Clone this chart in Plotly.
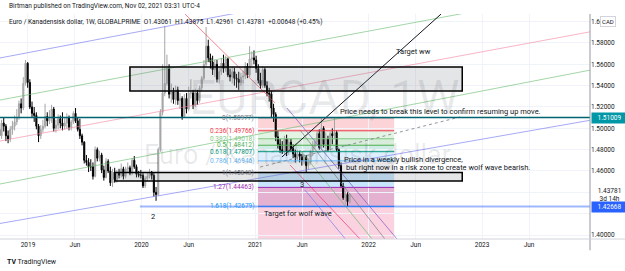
import plotly.graph_objects as go
import pandas as pd

# ---------------- data (EURCAD weekly) ----------------
opens = [
 1.4990,1.4930,1.5050,1.5020,1.4930,1.4900,1.4990,1.5020,1.5060,1.5100,1.5230,1.5190,1.5420,1.5610,
 1.5430,1.5200,1.5140,1.5120,1.5020,1.4930,1.4990,1.5020,1.5110,1.5070,1.5090,1.5180,
 1.5000,1.5030,1.5090,1.5050,1.5020,1.5050,1.5100,1.5010,1.5060,1.5140,1.5070,1.4990,1.4930,
 1.4870,1.4700,1.4680,1.4640,1.4640,1.4550,1.4800,1.4720,1.4750,1.4610,1.4540,1.4690,1.4600,1.4490,
 1.4590,1.4520,1.4580,1.4560,1.4620,1.4550,1.4620,1.4630,1.4580,1.4700,1.4640,1.4570,1.4560,
 1.4560,1.4460,1.4530,1.4550,1.4590,1.4560,1.4400,1.4380,1.4800,1.5150,1.5330,1.5420,1.5560,
 1.5320,1.5340,1.5270,1.5360,1.5260,1.5280,1.5110,1.5280,1.5180,1.5330,1.5330,1.5220,1.5330,
 1.5260,1.5380,1.5470,1.5600,1.5770,1.5660,1.5620,1.5550,1.5600,1.5460,1.5530,1.5610,1.5560,
 1.5650,1.5500,1.5480,1.5530,1.5470,1.5460,1.5430,1.5480,1.5490,1.5580,1.5500,1.5650,1.5660,
 1.5640,1.5560,1.5450,1.5400,1.5550,1.5400,1.5330,1.5320,1.5190,1.5130,1.4920,1.4850,1.4800,
 1.4780,1.4900,1.4780,1.4870,1.4810,1.4760,1.4730,1.4760,1.4740,1.4700,1.4730,1.4650,1.4680,
 1.4780,1.4830,1.4870,1.4950,1.4820,1.5000,1.4850,1.4900,1.4800,1.4950,1.4930,1.4960,1.4800,
 1.4650,1.4460,1.4350,1.4380,1.43061]
highs = [
 1.5060,1.5080,1.5100,1.5040,1.4980,1.5020,1.5070,1.5120,1.5180,1.5260,1.5280,1.5480,1.5640,1.5620,
 1.5460,1.5250,1.5200,1.5150,1.5040,1.5030,1.5080,1.5230,1.5150,1.5170,1.5220,1.5200,
 1.5080,1.5130,1.5120,1.5150,1.5100,1.5140,1.5120,1.5080,1.5160,1.5190,1.5100,1.5090,1.4950,
 1.4880,1.4750,1.4720,1.4710,1.4680,1.4830,1.4820,1.4790,1.4770,1.4650,1.4720,1.4710,1.4640,
 1.4620,1.4630,1.4610,1.4620,1.4670,1.4640,1.4640,1.4680,1.4650,1.4720,1.4740,1.4660,1.4600,
 1.4610,1.4580,1.4550,1.4590,1.4620,1.4600,1.4580,1.4450,1.4820,1.5180,1.5600,1.5960,1.5690,
 1.5600,1.5420,1.5380,1.5400,1.5390,1.5330,1.5300,1.5320,1.5330,1.5390,1.5460,1.5360,1.5370,
 1.5360,1.5400,1.5490,1.5640,1.5950,1.5830,1.5700,1.5680,1.5640,1.5640,1.5580,1.5660,1.5690,
 1.5680,1.5660,1.5560,1.5580,1.5570,1.5510,1.5530,1.5520,1.5540,1.5620,1.5610,1.5770,1.5720,
 1.5730,1.5680,1.5600,1.5520,1.5580,1.5570,1.5440,1.5380,1.5350,1.5230,1.5150,1.4980,1.4900,
 1.4880,1.4930,1.4940,1.4900,1.4900,1.4850,1.4800,1.4800,1.4790,1.4760,1.4760,1.4750,1.4720,
 1.4800,1.4880,1.4900,1.4980,1.4990,1.5100,1.5020,1.4960,1.4930,1.4970,1.5000,1.5100,1.4980,
 1.4810,1.4680,1.4490,1.4410,1.4400,1.43875]
lows = [
 1.4880,1.4900,1.4970,1.4880,1.4860,1.4870,1.4940,1.4980,1.5030,1.5080,1.5140,1.5170,1.5400,1.5380,
 1.5180,1.5100,1.5060,1.4990,1.4870,1.4900,1.4960,1.5000,1.5020,1.5040,1.5050,1.4970,
 1.4960,1.4990,1.5000,1.4980,1.4990,1.5000,1.4980,1.4980,1.5040,1.5050,1.4970,1.4900,1.4840,
 1.4670,1.4650,1.4590,1.4600,1.4520,1.4540,1.4690,1.4690,1.4580,1.4510,1.4530,1.4580,1.4460,
 1.4450,1.4490,1.4490,1.4530,1.4540,1.4520,1.4530,1.4590,1.4560,1.4560,1.4620,1.4540,1.4540,
 1.4530,1.4440,1.4440,1.4500,1.4530,1.4520,1.4360,1.4320,1.4370,1.4780,1.5120,1.5300,1.5400,
 1.5280,1.5240,1.5230,1.5220,1.5220,1.5180,1.5080,1.5100,1.5140,1.5160,1.5280,1.5180,1.5200,
 1.5220,1.5240,1.5350,1.5450,1.5580,1.5620,1.5560,1.5500,1.5480,1.5430,1.5420,1.5500,1.5520,
 1.5530,1.5480,1.5440,1.5420,1.5400,1.5380,1.5360,1.5400,1.5420,1.5460,1.5470,1.5480,1.5580,
 1.5600,1.5520,1.5420,1.5370,1.5380,1.5380,1.5300,1.5250,1.5100,1.5060,1.4880,1.4810,1.4770,
 1.4760,1.4760,1.4740,1.4750,1.4780,1.4720,1.4680,1.4700,1.4680,1.4650,1.4660,1.4590,1.4610,
 1.4660,1.4740,1.4800,1.4840,1.4800,1.4800,1.4820,1.4780,1.4780,1.4780,1.4850,1.4900,1.4780,
 1.4620,1.4440,1.4330,1.4290,1.4270,1.42961]
closes = [
 1.4930,1.5050,1.5020,1.4930,1.4900,1.4990,1.5020,1.5060,1.5100,1.5230,1.5190,1.5420,1.5610,1.5430,
 1.5200,1.5140,1.5120,1.5020,1.4930,1.4990,1.5020,1.5110,1.5070,1.5090,1.5180,1.5000,
 1.5030,1.5090,1.5050,1.5020,1.5050,1.5100,1.5010,1.5060,1.5140,1.5070,1.4990,1.4930,1.4870,
 1.4700,1.4680,1.4640,1.4640,1.4550,1.4800,1.4720,1.4750,1.4610,1.4540,1.4690,1.4600,1.4490,
 1.4590,1.4520,1.4580,1.4560,1.4620,1.4550,1.4620,1.4630,1.4580,1.4700,1.4640,1.4570,1.4560,
 1.4560,1.4460,1.4530,1.4550,1.4590,1.4560,1.4400,1.4380,1.4800,1.5150,1.5330,1.5420,1.5560,1.5320,
 1.5340,1.5270,1.5360,1.5260,1.5280,1.5110,1.5280,1.5180,1.5330,1.5330,1.5220,1.5330,
 1.5260,1.5380,1.5470,1.5600,1.5770,1.5660,1.5620,1.5550,1.5600,1.5460,1.5530,1.5610,1.5560,
 1.5650,1.5500,1.5480,1.5530,1.5470,1.5460,1.5430,1.5480,1.5490,1.5580,1.5500,1.5650,1.5660,
 1.5640,1.5560,1.5450,1.5400,1.5550,1.5400,1.5330,1.5320,1.5190,1.5130,1.4920,1.4850,1.4800,
 1.4780,1.4900,1.4780,1.4870,1.4810,1.4760,1.4730,1.4760,1.4740,1.4700,1.4730,1.4650,1.4680,
 1.4780,1.4830,1.4870,1.4950,1.4820,1.5000,1.4850,1.4900,1.4800,1.4950,1.4930,1.4960,1.4800,
 1.4650,1.4460,1.4350,1.4380,1.43133,1.43781]
dates = pd.date_range(end="2021-11-01", periods=len(closes), freq="7D")

x_ticks = ["2019-01-01","2019-06-01","2020-01-01","2020-06-01","2021-01-01","2021-06-01",
           "2022-01-01","2022-06-01","2023-01-01","2023-06-01"]
x_tick_labels = ["2019","Jun","2020","Jun","2021","Jun","2022","Jun","2023","Jun"]
y_ticks = [1.40,1.42,1.44,1.46,1.48,1.50,1.52,1.54,1.56,1.58,1.60]
y_tick_labels = ["1.40000","","","1.46000","1.48000","1.50000","1.52000","1.54000","1.56000","1.58000","1.60000"]

fib_levels = ["0","0.236","0.382","0.5","0.618","0.786","1","1.27","1.618"]
fib_prices = [1.50977,1.49766,1.49018,1.48412,1.47807,1.46946,1.45848,1.44463,1.42679]
fib_ext_price = 1.37550
fib_colors = ["#787b86","#f23645","#81c784","#4caf50","#089981","#64b5f6","#787b86","#9c27b0","#2196f3"]
fib_fills = ["rgba(242,54,69,0.22)","rgba(129,199,132,0.22)","rgba(76,175,80,0.22)",
             "rgba(8,153,129,0.2)","rgba(100,181,246,0.22)","rgba(120,123,134,0.18)",
             "rgba(33,150,243,0.25)","rgba(190,60,140,0.4)","rgba(233,30,99,0.2)"]
fib_start, fib_end, fib_label_date = "2021-01-10", "2022-03-24", "2021-01-04"

x_range = ["2018-10-03", "2023-12-14"]
y_range = [1.39625, 1.60712]

boxes = [  # (x0, x1, y0, y1)
    ("2019-11-25", "2022-10-29", 1.5350, 1.5575),
    ("2019-10-08", "2022-10-29", 1.4505, 1.4585),
]
channel_lines = [  # y at left edge, y at right edge, colour
    (1.5659, 1.6709, "rgba(120,123,240,0.65)"),
    (1.5265, 1.6299, "rgba(102,187,106,0.6)"),
    (1.4881, 1.5904, "rgba(242,120,150,0.55)"),
    (1.4478, 1.5545, "rgba(102,187,106,0.6)"),
    (1.4108, 1.5075, "rgba(120,123,240,0.65)"),
]
segments = [  # x0, y0, x1, y1, colour, dash
    ("2021-03-28", 1.4731, "2022-08-22", 1.6071, "#131722", "solid"),
    ("2020-05-20", 1.6071, "2021-03-06", 1.5237, "rgba(242,54,69,0.6)", "solid"),
    ("2021-01-17", 1.4637, "2022-10-22", 1.5106, "rgba(120,123,134,0.8)", "dot"),
    ("2021-04-13", 1.5190, "2022-04-02", 1.3963, "rgba(126,87,194,0.7)", "solid"),
    ("2021-05-25", 1.4984, "2022-02-22", 1.3963, "rgba(120,123,134,0.7)", "solid"),
    ("2021-05-25", 1.4797, "2022-01-12", 1.3963, "rgba(102,187,106,0.7)", "solid"),
    ("2021-04-23", 1.4656, "2021-12-04", 1.3963, "rgba(233,30,99,0.6)", "solid"),
    ("2021-06-10", 1.4422, "2021-10-18", 1.3963, "rgba(120,123,240,0.7)", "solid"),
]
teal_level = 1.51009
blue_level, blue_start = 1.42668, "2019-12-27"
last_price = 1.43781

notes = [  # x, y, text, xanchor
    ("2022-05-24", 1.5724, "Target ww", "center"),
    ("2021-09-24", 1.5153, "Price needs to break this level to confirm resuming up move.", "left"),
    ("2021-10-08", 1.4703, "Price in a weekly bullish divergence,", "left"),
    ("2021-10-14", 1.4628, "but right now in a risk zone to create wolf wave bearish.", "left"),
    ("2021-01-23", 1.4206, "Target for wolf wave", "left"),
    ("2020-02-07", 1.4169, "2", "center"),
    ("2021-06-01", 1.4469, "3", "center"),
]

FONT = "Roboto"
TXT = "#131722"
UP, DOWN = "#a6a6a6", "#000000"

fig = go.Figure(go.Candlestick(
    x=dates, open=opens, high=highs, low=lows, close=closes,
    increasing=dict(line=dict(color=UP, width=1), fillcolor=UP),
    decreasing=dict(line=dict(color=DOWN, width=1), fillcolor=DOWN),
    whiskerwidth=0, hoverinfo="skip", showlegend=False))

shapes = []
bounds = fib_prices + [fib_ext_price]
for i in range(len(fib_prices)):
    shapes.append(dict(type="rect", xref="x", yref="y", x0=fib_start, x1=fib_end,
                       y0=bounds[i], y1=bounds[i + 1], fillcolor=fib_fills[i],
                       line=dict(width=0), layer="below"))
for p, c in zip(fib_prices, fib_colors):
    shapes.append(dict(type="line", xref="x", yref="y", x0=fib_start, x1=fib_end, y0=p, y1=p,
                       line=dict(color=c, width=1), layer="above"))
for y0, y1, c in channel_lines:
    shapes.append(dict(type="line", xref="x", yref="y", x0=x_range[0], x1=x_range[1], y0=y0, y1=y1,
                       line=dict(color=c, width=1)))
for x0, y0, x1, y1, c, d in segments:
    shapes.append(dict(type="line", xref="x", yref="y", x0=x0, x1=x1, y0=y0, y1=y1,
                       line=dict(color=c, width=1, dash=d)))
for x0, x1, y0, y1 in boxes:
    shapes.append(dict(type="rect", xref="x", yref="y", x0=x0, x1=x1, y0=y0, y1=y1,
                       fillcolor="rgba(120,123,134,0.2)", line=dict(color="#000000", width=1.5)))
shapes.append(dict(type="line", xref="paper", yref="y", x0=0, x1=1, y0=teal_level, y1=teal_level,
                   line=dict(color="#006470", width=1.5)))
shapes.append(dict(type="line", xref="x", yref="y", x0=blue_start, x1=x_range[1], y0=blue_level, y1=blue_level,
                   line=dict(color="rgba(41,98,255,0.45)", width=2)))
shapes.append(dict(type="line", xref="paper", yref="paper", x0=1, x1=1, y0=-0.05, y1=1,
                   line=dict(color="#9598a1", width=1)))
shapes.append(dict(type="line", xref="paper", yref="paper", x0=0, x1=1.06, y0=0, y1=0,
                   line=dict(color="#d1d4dc", width=1)))

ann = []
for lvl, p, c in zip(fib_levels, fib_prices, fib_colors):
    ann.append(dict(x=fib_label_date, y=p, xref="x", yref="y", text=f"{lvl}({p:.5f})",
                    showarrow=False, xanchor="right", yanchor="middle",
                    font=dict(family=FONT, size=6.5, color=c)))
for x, y, t, xa in notes:
    ann.append(dict(x=x, y=y, xref="x", yref="y", text=t, showarrow=False, xanchor=xa,
                    yanchor="middle", font=dict(family=FONT, size=7.5, color=TXT)))
# watermark
ann.append(dict(x=0.55, y=0.627, xref="paper", yref="paper", text="EURCAD, 1W", showarrow=False,
                xanchor="center", yanchor="middle",
                font=dict(family=FONT, size=48, color="rgba(19,23,34,0.09)")))
ann.append(dict(x=0.505, y=0.375, xref="paper", yref="paper", text="Euro / Kanadensisk dollar",
                showarrow=False, xanchor="center", yanchor="middle",
                font=dict(family=FONT, size=27, color="rgba(19,23,34,0.09)")))
# headers
ann.append(dict(x=0, y=1, xref="paper", yref="paper", text="Birtman published on TradingView.com, Nov 02, 2021 03:31 UTC-4",
                showarrow=False, xanchor="left", yanchor="middle", xshift=7, yshift=8,
                font=dict(family=FONT, size=6.5, color=TXT)))
ann.append(dict(x=0, y=1, xref="paper", yref="paper",
                text="Euro / Kanadensisk dollar, 1W, GLOBALPRIME  O1.43061  H1.43875  L1.42961  C1.43781  +0.00648 (+0.45%)",
                showarrow=False, xanchor="left", yanchor="middle", xshift=7, yshift=-8,
                font=dict(family=FONT, size=6.5, color=TXT)))
ann.append(dict(x=0, y=0, xref="paper", yref="paper", text="<b>TV</b> TradingView",
                showarrow=False, xanchor="left", yanchor="middle", xshift=5, yshift=-23,
                font=dict(family=FONT, size=7, color=TXT)))
# price scale labels
ann.append(dict(x=1, y=teal_level, xref="paper", yref="y", text=f"{teal_level:.5f}", showarrow=False,
                xanchor="left", yanchor="middle", xshift=1, bgcolor="#0097a7", width=33,
                font=dict(family=FONT, size=6.5, color="white")))
ann.append(dict(x=1, y=last_price, xref="paper", yref="y", text=f"{last_price:.5f}<br>3d 14h", showarrow=False,
                xanchor="left", yanchor="middle", xshift=1, bgcolor="white", width=33,
                font=dict(family=FONT, size=6.5, color=TXT)))
ann.append(dict(x=1, y=blue_level, xref="paper", yref="y", text=f"{blue_level:.5f}", showarrow=False,
                xanchor="left", yanchor="middle", xshift=1, bgcolor="#2962ff", width=33,
                font=dict(family=FONT, size=6.5, color="white")))
ann.append(dict(x=1, y=1.60, xref="paper", yref="y", text="CAD", showarrow=False,
                xanchor="left", yanchor="middle", xshift=10, bgcolor="white", bordercolor="#d1d4dc",
                borderwidth=1, borderpad=1, font=dict(family=FONT, size=6, color=TXT)))

fig.update_layout(
    width=625, height=271, margin=dict(l=0, r=35, t=14, b=32),
    paper_bgcolor="white", plot_bgcolor="white", showlegend=False,
    shapes=shapes, annotations=ann,
    xaxis=dict(type="date", range=x_range, rangeslider=dict(visible=False),
               tickvals=x_ticks, ticktext=x_tick_labels, showgrid=True, gridcolor="#f0f3fa",
               gridwidth=1, zeroline=False, showline=False, ticks="",
               tickfont=dict(family=FONT, size=6.5, color=TXT)),
    yaxis=dict(side="right", range=y_range, tickvals=y_ticks, ticktext=y_tick_labels,
               showgrid=True, gridcolor="#f0f3fa", gridwidth=1, zeroline=False, ticks="",
               tickfont=dict(family=FONT, size=6.5, color=TXT)),
)
fig.write_html("out.html")
